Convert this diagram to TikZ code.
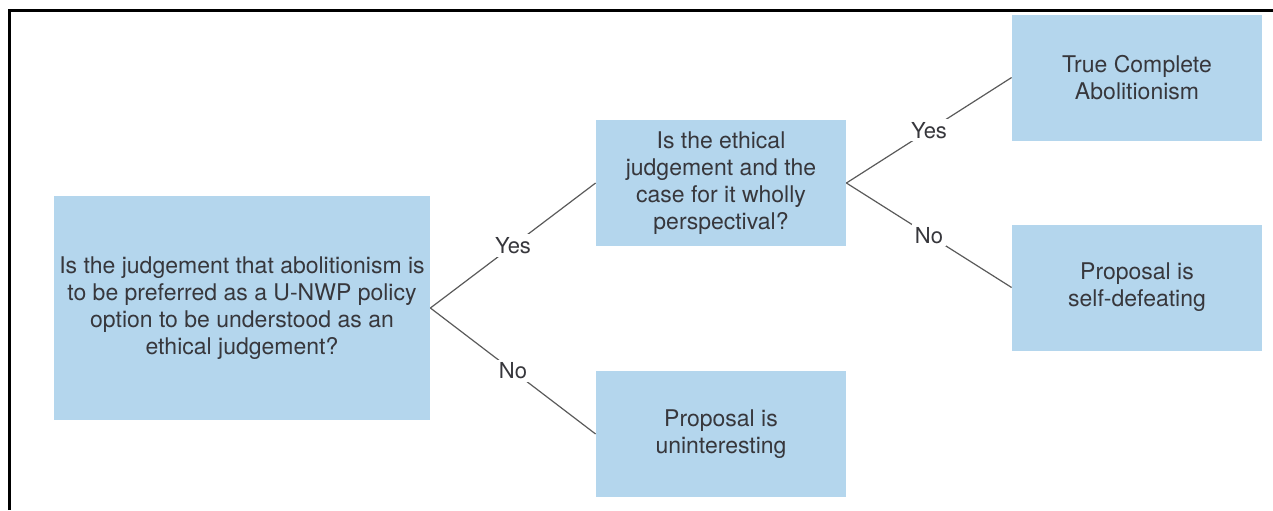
\documentclass[tikz,border=0pt]{standalone}
\usepackage{fontspec}
\setmainfont{TeX Gyre Heros}
\definecolor{boxblue}{RGB}{180,214,237}
\definecolor{txtgray}{RGB}{55,55,60}
\definecolor{linegray}{RGB}{90,90,90}
\begin{document}
\begin{tikzpicture}[x=0.5pt, y=-0.5pt]
        \tikzstyle{box} = [fill=boxblue, text=txtgray, align=center, inner sep=0pt, font=\fontsize{11.5}{13.4}\selectfont]
        \tikzstyle{big} = [minimum width=188pt, minimum height=112pt]
        \tikzstyle{small} = [minimum width=125pt, minimum height=63pt]
        \tikzstyle{lbl} = [fill=white, text=txtgray, inner sep=1.5pt, font=\fontsize{11}{13}\selectfont]
        \tikzstyle{link} = [draw=linegray, line width=0.6pt]

        \useasboundingbox (0,0) rectangle (1273,510);
        \draw [line width=1.5pt] (9.5,510) -- (9.5,10.5) -- (1275,10.5);

        \node (ethical) [box, big] at (242,308) {Is the judgement that abolitionism is \\ to be preferred as a U-NWP policy \\ option to be understood as an \\ ethical judgement?};
        \node (persp) [box, small] at (721,183) {Is the ethical \\ judgement and the \\ case for it wholly \\ perspectival?};
        \node (unint) [box, small] at (721,434) {Proposal is \\ uninteresting};
        \node (tca) [box, small] at (1137,77.5) {True Complete \\ Abolitionism};
        \node (selfdef) [box, small] at (1137,287.5) {Proposal is \\ self-defeating};

        \draw [link] (ethical.east) -- node [lbl] {Yes} (persp.west);
        \draw [link] (ethical.east) -- node [lbl] {No} (unint.west);
        \draw [link] (persp.east) -- node [lbl] {Yes} (tca.west);
        \draw [link] (persp.east) -- node [lbl] {No} (selfdef.west);

    \end{tikzpicture}
\end{document}
